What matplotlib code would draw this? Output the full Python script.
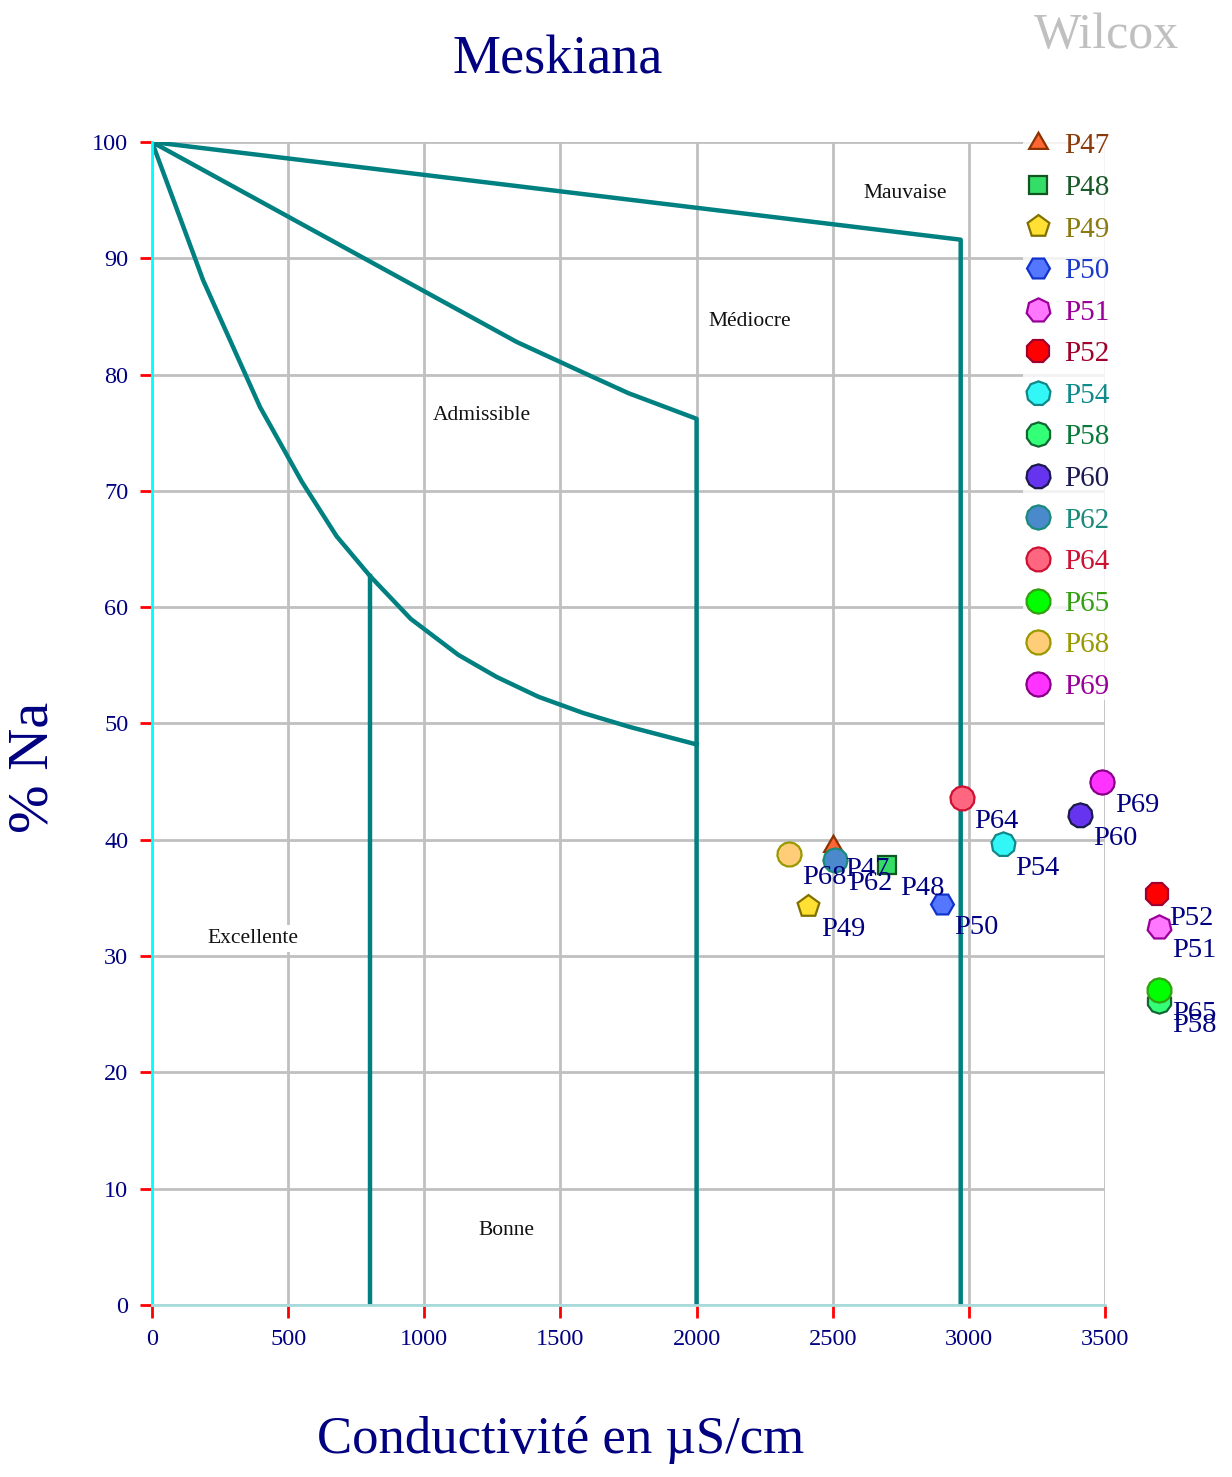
import matplotlib
matplotlib.use("Agg")
import matplotlib.pyplot as plt
from matplotlib.lines import Line2D

plt.rcParams['font.family'] = ['Liberation Serif', 'DejaVu Serif']

# ---- data ----
names = ['P47', 'P48', 'P49', 'P50', 'P51', 'P52', 'P54', 'P58', 'P60', 'P62', 'P64', 'P65', 'P68', 'P69']
cond = [2500, 2700, 2410, 2900, 3700, 3690, 3125, 3700, 3410, 2510, 2975, 3700, 2340, 3490]
na_pct = [39.5, 37.8, 34.3, 34.5, 32.5, 35.3, 39.6, 26.1, 42.1, 38.3, 43.6, 27.1, 38.8, 45.0]

# Wilcox class boundaries
upper_x = [0, 2970, 2970]
upper_y = [100, 91.6, 0]
mid_x = [0, 1340, 1600, 1750, 2000, 2000]
mid_y = [100, 82.8, 80.0, 78.4, 76.2, 0]
low_x = [0, 188, 397, 550, 678, 800, 950, 1125, 1266, 1419, 1584, 1755, 2000]
low_y = [100, 88.1, 77.2, 70.8, 66.1, 62.7, 59.0, 55.9, 54.0, 52.3, 50.9, 49.7, 48.2]
sep_x = [800, 800]
sep_y = [62.7, 0]

zone_names = ['Mauvaise', 'Médiocre', 'Admissible', 'Excellente', 'Bonne']
zone_x = [2765, 2196, 1212, 371, 1300]
zone_y = [95.6, 84.6, 76.5, 31.5, 6.4]

xticks = [0, 500, 1000, 1500, 2000, 2500, 3000, 3500]
yticks = [0, 10, 20, 30, 40, 50, 60, 70, 80, 90, 100]

# ---- styles ----
markers = [(3, 0, 0), 's', (5, 0, 0), 'H', (7, 0, 0), '8', (9, 0, 0), (10, 0, 0),
           (11, 0, 0), (12, 0, 0), (13, 0, 0), (14, 0, 0), (15, 0, 0), (16, 0, 0)]
msizes = [15.5, 13.5, 16.5, 16.5, 17.5, 17.5, 17.5, 17.5, 17.5, 17.5, 17.5, 17.5, 17.5, 17.5]
fills = ['#ff6633', '#33dd66', '#ffe033', '#5577ff', '#ff77ff', '#ff0000', '#33f6f6', '#33ff77',
         '#6633ee', '#4a8acc', '#ff6680', '#00ff00', '#ffcc77', '#ff33ff']
edges = ['#8b3300', '#115522', '#807000', '#1133cc', '#990099', '#a00030', '#118888', '#116633',
         '#1a1a4d', '#1a8a7a', '#cc1133', '#33a011', '#999900', '#880088']
txtcols = ['#8b3a0a', '#1a5a2a', '#8a7a10', '#1a3acc', '#990099', '#a0002a', '#108a8a', '#0a7a3a',
           '#1a1a50', '#1a8a7a', '#cc1133', '#33a011', '#999900', '#990099']

navy = '#000080'
teal = '#008080'
W, H = 1232, 1477

fig = plt.figure(figsize=(W / 100, H / 100), dpi=100)
ax = fig.add_axes([152 / W, 1 - 1305 / H, (1105 - 152) / W, (1305 - 142) / H])

ax.set_xlim(0, 3500)
ax.set_ylim(0, 100)
ax.set_xticks(xticks)
ax.set_yticks(yticks)
ax.grid(True, color='#c0c0c0', linewidth=2.0, zorder=0)
ax.set_axisbelow(True)
for s in ['top', 'right']:
    ax.spines[s].set_visible(False)
ax.spines['left'].set_color('#00ffff')
ax.spines['left'].set_linewidth(2.0)
ax.spines['bottom'].set_color('#a8dcdc')
ax.spines['bottom'].set_linewidth(2.0)
ax.tick_params(axis='both', direction='out', color='red', width=2, length=9,
               labelcolor=navy, labelsize=17.5, pad=8)

# boundaries
lw = 3.2
ax.plot(upper_x, upper_y, color=teal, lw=lw, zorder=2)
ax.plot(mid_x, mid_y, color=teal, lw=lw, zorder=2)
ax.plot(low_x, low_y, color=teal, lw=lw, zorder=2)
ax.plot(sep_x, sep_y, color=teal, lw=lw, zorder=2)

for zn, zx, zy in zip(zone_names, zone_x, zone_y):
    ax.text(zx, zy, zn, fontsize=15.5, color='#111111', ha='center', va='center', zorder=1.5,
            bbox=dict(facecolor='white', edgecolor='none', pad=3))

# points
handles = []
for i, nm in enumerate(names):
    ax.plot([cond[i]], [na_pct[i]], linestyle='none', marker=markers[i], markersize=msizes[i],
            markerfacecolor=fills[i], markeredgecolor=edges[i], markeredgewidth=1.6,
            clip_on=False, zorder=5)
    ax.annotate(nm, (cond[i], na_pct[i]), xytext=(9, -17), textcoords='offset points',
                ha='left', va='center', fontsize=20.5, color=navy, annotation_clip=False, zorder=6)
    handles.append(Line2D([], [], linestyle='none', marker=markers[i], markersize=msizes[i],
                          markerfacecolor=fills[i], markeredgecolor=edges[i], markeredgewidth=1.6))

leg = fig.legend(handles, names, loc='upper left', bbox_to_anchor=(1023 / W, 1 - 133 / H),
                 frameon=True, fontsize=21, handlelength=1.0, handletextpad=0.42,
                 labelspacing=0.52, borderpad=0.0, borderaxespad=0.0)
leg.get_frame().set_facecolor('white')
leg.get_frame().set_edgecolor('none')
for t, c in zip(leg.get_texts(), txtcols):
    t.set_color(c)

# titles
fig.text(558 / W, 1 - 60 / H, 'Meskiana', fontsize=39, color=navy, ha='center', va='center')
fig.text(1106 / W, 1 - 36 / H, 'Wilcox', fontsize=36, color='#c0c0c0', ha='center', va='center')
fig.text(33 / W, 1 - 767 / H, '% Na', fontsize=42, color=navy, ha='center', va='center',
         rotation=90)
fig.text(561 / W, 1 - 1440 / H, 'Conductivité en µS/cm', fontsize=38, color=navy,
         ha='center', va='center')

fig.savefig('out.png', dpi=100, facecolor='white')
